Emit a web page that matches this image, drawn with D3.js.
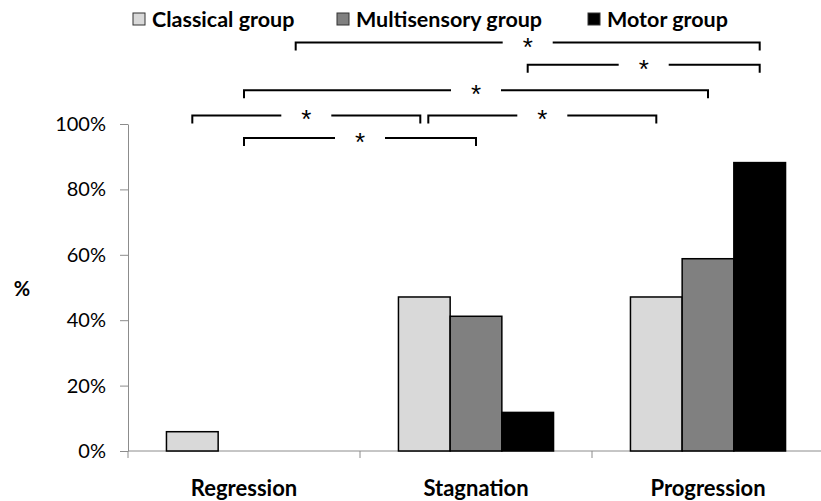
<!DOCTYPE html>
<html>
<head>
<meta charset="utf-8">
<script src="https://cdn.jsdelivr.net/npm/d3@7"></script>
<style>
  body { margin: 0; background: #fff; }
  svg { display: block; }
</style>
</head>
<body>
<div id="chart"></div>
<script>
// ---- Data ----
const categories = ['Regression', 'Stagnation', 'Progression'];
const groups = ['Classical group', 'Multisensory group', 'Motor group'];
const classical = [5.9, 47.1, 47.1];
const multisensory = [0, 41.2, 58.8];
const motor = [0, 11.8, 88.2];
const yTicks = [0, 20, 40, 60, 80, 100];

// significance brackets: [fromCategory, fromGroup, toCategory, toGroup, height in %]
const brackets = [
  ['Regression', 'Motor group', 'Progression', 'Motor group', 124.9],
  ['Stagnation', 'Motor group', 'Progression', 'Motor group', 118.1],
  ['Regression', 'Multisensory group', 'Progression', 'Multisensory group', 110.3],
  ['Regression', 'Classical group', 'Stagnation', 'Classical group', 102.6],
  ['Stagnation', 'Classical group', 'Progression', 'Classical group', 102.6],
  ['Regression', 'Multisensory group', 'Stagnation', 'Multisensory group', 95.7]
];

const series = [classical, multisensory, motor];
const colors = ['#d9d9d9', '#808080', '#000000'];

const width = 821, height = 501;
const svg = d3.select('#chart').append('svg')
  .attr('width', width).attr('height', height)
  .attr('font-family', 'Lato, "Open Sans", sans-serif');

// ---- Scales ----
const x = d3.scaleBand().domain(categories).range([128, 824]).padding(0);
const x1 = d3.scaleBand().domain(groups).range([0, x.bandwidth()])
  .paddingInner(0).paddingOuter(0.744);
const y = d3.scaleLinear().domain([0, 100]).range([451, 124]);
const color = d3.scaleOrdinal().domain(groups).range(colors);

// ---- Y axis ----
svg.append('g')
  .attr('transform', `translate(${x.range()[0]},0)`)
  .call(d3.axisLeft(y).tickValues(yTicks).tickFormat(d => d + '%')
    .tickSize(8).tickSizeOuter(0).tickPadding(14))
  .call(g => g.select('.domain').attr('stroke', '#8c8c8c'))
  .call(g => g.selectAll('.tick line').attr('stroke', '#8c8c8c'))
  .call(g => g.selectAll('text')
    .attr('font-family', 'Lato, sans-serif').attr('font-size', '20px').attr('fill', '#000'));

svg.append('text')
  .attr('x', 22).attr('y', 296)
  .attr('text-anchor', 'middle')
  .attr('font-size', '20px').attr('font-weight', 'bold')
  .text('%');

// ---- X axis ----
svg.append('line')
  .attr('x1', x.range()[0]).attr('x2', x.range()[1])
  .attr('y1', y(0)).attr('y2', y(0))
  .attr('stroke', '#8c8c8c');

svg.append('g').selectAll('line').data(categories).join('line')
  .attr('x1', d => x(d)).attr('x2', d => x(d))
  .attr('y1', y(0)).attr('y2', y(0) + 7)
  .attr('stroke', '#8c8c8c');

svg.append('g')
  .attr('transform', `translate(0,${y(0)})`)
  .call(d3.axisBottom(x).tickSize(0).tickPadding(29))
  .call(g => g.select('.domain').remove())
  .call(g => g.selectAll('text')
    .attr('font-family', 'Lato, sans-serif').attr('font-size', '22px')
    .attr('font-weight', 'bold').attr('fill', '#000'));

// ---- Bars ----
const barGroups = svg.append('g').selectAll('g').data(categories).join('g')
  .attr('transform', d => `translate(${x(d)},0)`);

barGroups.selectAll('rect')
  .data((c, i) => groups.map((gname, j) => ({ group: gname, value: series[j][i] })))
  .join('rect')
  .filter(d => d.value > 0)
  .attr('x', d => x1(d.group))
  .attr('width', x1.bandwidth())
  .attr('y', d => y(d.value))
  .attr('height', d => y(0) - y(d.value))
  .attr('fill', d => color(d.group))
  .attr('stroke', '#000')
  .attr('stroke-width', 1.5);

// ---- Significance brackets ----
const cx = (cat, grp) => x(cat) + x1(grp) + x1.bandwidth() / 2;
const gap = 25;
const bg = svg.append('g').attr('fill', 'none').attr('stroke', '#000').attr('stroke-width', 2);

// pull an end in a little when another bracket on the same level meets it
const shared = (cat, grp, h, self) => brackets.some(b => b !== self && b[4] === h &&
  ((b[0] === cat && b[1] === grp) || (b[2] === cat && b[3] === grp)));

brackets.forEach(b => {
  const [c1, g1, c2, g2, h] = b;
  const xa = cx(c1, g1) + (shared(c1, g1, h, b) ? 4 : 0);
  const xb = cx(c2, g2) - (shared(c2, g2, h, b) ? 4 : 0);
  const yl = y(h), mid = (xa + xb) / 2;
  bg.append('path')
    .attr('d', `M${xa},${yl + 8}V${yl}H${mid - gap}`);
  bg.append('path')
    .attr('d', `M${mid + gap},${yl}H${xb}V${yl + 8}`);
  svg.append('text')
    .attr('x', mid).attr('y', yl + 13)
    .attr('text-anchor', 'middle')
    .attr('font-family', '"Liberation Sans", Arial, sans-serif')
    .attr('font-size', '26px')
    .attr('fill', '#000')
    .text('*');
});

// ---- Legend ----
const legendX = [133, 337, 588];
const legend = svg.append('g').selectAll('g').data(groups).join('g')
  .attr('transform', (d, i) => `translate(${legendX[i]},13)`);

legend.append('rect')
  .attr('width', 12).attr('height', 12)
  .attr('fill', d => color(d))
  .attr('stroke', '#333').attr('stroke-width', 1);

legend.append('text')
  .attr('x', 19).attr('y', 14)
  .attr('font-size', '21.5px').attr('font-weight', 'bold')
  .attr('fill', '#000')
  .text(d => d);
</script>
</body>
</html>
